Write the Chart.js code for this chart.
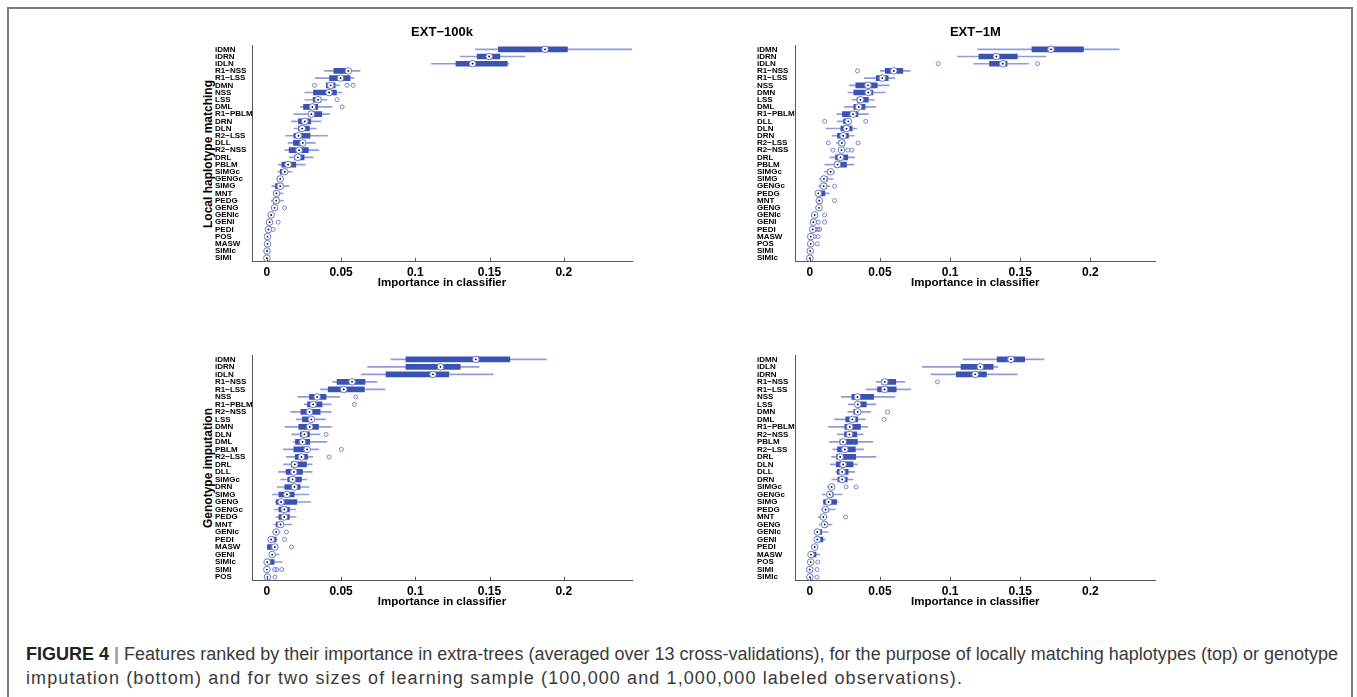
<!DOCTYPE html>
<html>
<head>
<meta charset="utf-8" />
<title>Figure 4</title>
<script src="https://cdn.jsdelivr.net/npm/chart.js@4.4.0/dist/chart.umd.min.js"></script>
<style>
  body { margin: 0; background: #fff; font-family: "Liberation Sans", Arial, Helvetica, sans-serif; }
  #page { position: relative; width: 1357px; height: 697px; overflow: hidden; }
  #frame { position: absolute; left: 7px; top: 7px; width: 1342px; height: 720px; border: 2px solid #7a7a7a; border-bottom: none; }
  canvas { position: absolute; }
  .rowtitle { position: absolute; font-weight: bold; font-size: 12px; white-space: nowrap; transform: translate(-50%, -50%) rotate(-90deg); }
  #caption { position: absolute; left: 26px; top: 642px; font-size: 18px; line-height: 24px; color: #3a3a3a; white-space: nowrap; }
  #caption span.line { display: inline-block; }
  #caption b { color: #222; }
  #caption .bar { color: #999; font-weight: bold; }
</style>
</head>
<body>
<div id="page">
  <div id="frame"></div>
  <canvas id="hap100k" width="422" height="274" style="left:215px; top:16px;"></canvas>
  <canvas id="hap1M" width="403" height="274" style="left:757px; top:16px;"></canvas>
  <canvas id="imp100k" width="422" height="269" style="left:215px; top:340px;"></canvas>
  <canvas id="imp1M" width="403" height="269" style="left:757px; top:340px;"></canvas>
  <div class="rowtitle" style="left:208px; top:154px;">Local haplotype matching</div>
  <div class="rowtitle" style="left:208px; top:468px;">Genotype imputation</div>
  <div id="caption"><span class="line" data-w="1312"><b>FIGURE 4</b> <span class="bar">|</span> Features ranked by their importance in extra-trees (averaged over 13 cross-validations), for the purpose of locally matching haplotypes (top) or genotype</span><br><span class="line" data-w="937">imputation (bottom) and for two sizes of learning sample (100,000 and 1,000,000 labeled observations).</span></div>
</div>
<script>
// x axis ticks (shared)
const tickValues = [0, 0.05, 0.1, 0.15, 0.2];
const tickLabels = ['0', '0.05', '0.1', '0.15', '0.2'];

// EXT-100k, local haplotype matching
const hap100kLabels = ['iDMN','iDRN','iDLN','R1−NSS','R1−LSS','DMN','NSS','LSS','DML','R1−PBLM','DRN','DLN','R2−LSS','DLL','R2−NSS','DRL','PBLM','SIMGc','GENGc','SIMG','MNT','PEDG','GENG','GENIc','GENI','PEDI','POS','MASW','SIMIc','SIMI'];
const hap100kLo  = [0.1404,0.1303,0.1108,0.0388,0.0327,0.0400,0.0256,0.0256,0.0226,0.0182,0.0166,0.0182,0.0126,0.0143,0.0121,0.0150,0.0078,0.0074,0.0067,0.0034,0.0045,0.0029,0.0038,0.0018,0.0009,0.0004,0.0000,0.0000,0.0000,0.0000];
const hap100kQ1  = [0.1560,0.1417,0.1274,0.0451,0.0422,0.0401,0.0314,0.0312,0.0247,0.0283,0.0213,0.0213,0.0182,0.0179,0.0150,0.0188,0.0101,0.0090,0.0076,0.0058,0.0054,0.0045,0.0043,0.0022,0.0013,0.0007,0.0002,0.0002,0.0000,0.0000];
const hap100kMed = [0.1874,0.1498,0.1386,0.0549,0.0496,0.0430,0.0419,0.0345,0.0307,0.0300,0.0256,0.0238,0.0213,0.0242,0.0217,0.0209,0.0143,0.0121,0.0090,0.0090,0.0065,0.0063,0.0052,0.0029,0.0018,0.0011,0.0004,0.0004,0.0001,0.0000];
const hap100kQ3  = [0.2025,0.1570,0.1620,0.0565,0.0561,0.0460,0.0469,0.0365,0.0343,0.0370,0.0296,0.0287,0.0291,0.0258,0.0280,0.0251,0.0195,0.0135,0.0103,0.0108,0.0076,0.0081,0.0061,0.0036,0.0022,0.0016,0.0006,0.0006,0.0002,0.0001];
const hap100kHi  = [0.2460,0.1738,0.1630,0.0628,0.0587,0.0489,0.0507,0.0404,0.0439,0.0422,0.0365,0.0332,0.0408,0.0327,0.0350,0.0312,0.0258,0.0170,0.0112,0.0148,0.0108,0.0112,0.0067,0.0040,0.0027,0.0020,0.0008,0.0008,0.0003,0.0002];
const hap100kOut = [['DMN',0.0321],['DMN',0.0540],['DMN',0.0581],['LSS',0.0473],['DML',0.0507],['GENG',0.0119],['GENI',0.0076],['PEDI',0.0043]];

// EXT-1M, local haplotype matching
const hap1MLabels = ['iDMN','iDRN','iDLN','R1−NSS','R1−LSS','NSS','DMN','LSS','DML','R1−PBLM','DLL','DLN','DRN','R2−LSS','R2−NSS','DRL','PBLM','SIMGc','SIMG','GENGc','PEDG','MNT','GENG','GENIc','GENI','PEDI','MASW','POS','SIMI','SIMIc'];
const hap1MLo  = [0.1198,0.1054,0.1170,0.0502,0.0389,0.0283,0.0271,0.0302,0.0248,0.0193,0.0196,0.0116,0.0160,0.0191,0.0210,0.0144,0.0108,0.0106,0.0068,0.0064,0.0042,0.0052,0.0040,0.0025,0.0018,0.0015,0.0002,0.0004,0.0001,0.0000];
const hap1MQ1  = [0.1583,0.1205,0.1281,0.0538,0.0474,0.0328,0.0314,0.0337,0.0314,0.0233,0.0241,0.0222,0.0198,0.0208,0.0218,0.0184,0.0179,0.0127,0.0083,0.0083,0.0054,0.0059,0.0055,0.0030,0.0022,0.0018,0.0004,0.0005,0.0002,0.0000];
const hap1MMed = [0.1719,0.1330,0.1375,0.0599,0.0517,0.0415,0.0417,0.0361,0.0349,0.0309,0.0274,0.0262,0.0238,0.0229,0.0226,0.0219,0.0198,0.0149,0.0101,0.0099,0.0061,0.0068,0.0066,0.0035,0.0026,0.0021,0.0007,0.0007,0.0003,0.0001];
const hap1MQ3  = [0.1950,0.1479,0.1406,0.0663,0.0559,0.0481,0.0450,0.0417,0.0394,0.0344,0.0292,0.0302,0.0276,0.0248,0.0233,0.0271,0.0262,0.0160,0.0125,0.0120,0.0108,0.0078,0.0075,0.0040,0.0030,0.0026,0.0010,0.0009,0.0004,0.0002];
const hap1MHi  = [0.2205,0.1682,0.1561,0.0715,0.0606,0.0566,0.0538,0.0460,0.0472,0.0417,0.0295,0.0335,0.0316,0.0252,0.0241,0.0321,0.0314,0.0177,0.0167,0.0142,0.0139,0.0085,0.0087,0.0045,0.0035,0.0030,0.0014,0.0011,0.0005,0.0003];
const hap1MOut = [['iDLN',0.0915],['iDLN',0.1623],['R1−NSS',0.0340],['DLL',0.0106],['DLL',0.0399],['R2−LSS',0.0132],['R2−LSS',0.0344],['R2−NSS',0.0165],['R2−NSS',0.0271],['R2−NSS',0.0300],['GENGc',0.0177],['MNT',0.0177],['GENIc',0.0106],['GENI',0.0061],['GENI',0.0106],['PEDI',0.0045],['PEDI',0.0059],['PEDI',0.0071],['MASW',0.0033],['MASW',0.0059],['POS',0.0054]];

// EXT-100k, genotype imputation
const imp100kLabels = ['iDMN','iDRN','iDLN','R1−NSS','R1−LSS','NSS','R1−PBLM','R2−NSS','LSS','DMN','DLN','DML','PBLM','R2−LSS','DRL','DLL','SIMGc','DRN','SIMG','GENG','GENGc','PEDG','MNT','GENIc','PEDI','MASW','GENI','SIMIc','SIMI','POS'];
const imp100kLo  = [0.0836,0.0679,0.0637,0.0444,0.0361,0.0209,0.0253,0.0161,0.0197,0.0123,0.0168,0.0179,0.0110,0.0132,0.0112,0.0078,0.0094,0.0070,0.0038,0.0056,0.0052,0.0061,0.0047,0.0038,0.0013,0.0002,0.0018,0.0000,0.0000,0.0000];
const imp100kQ1  = [0.0937,0.0937,0.0803,0.0473,0.0413,0.0287,0.0274,0.0229,0.0240,0.0215,0.0226,0.0193,0.0182,0.0191,0.0164,0.0130,0.0141,0.0121,0.0081,0.0063,0.0081,0.0081,0.0063,0.0049,0.0016,0.0004,0.0025,0.0002,0.0000,0.0002];
const imp100kMed = [0.1408,0.1170,0.1119,0.0574,0.0518,0.0339,0.0312,0.0287,0.0300,0.0289,0.0253,0.0240,0.0271,0.0233,0.0188,0.0182,0.0173,0.0186,0.0135,0.0096,0.0117,0.0117,0.0092,0.0063,0.0029,0.0054,0.0036,0.0002,0.0000,0.0004];
const imp100kQ3  = [0.1637,0.1303,0.1226,0.0661,0.0657,0.0399,0.0372,0.0359,0.0314,0.0348,0.0287,0.0289,0.0280,0.0274,0.0267,0.0240,0.0233,0.0224,0.0184,0.0202,0.0152,0.0152,0.0108,0.0072,0.0063,0.0067,0.0045,0.0049,0.0003,0.0006];
const imp100kHi  = [0.1883,0.1430,0.1525,0.0742,0.0796,0.0491,0.0433,0.0433,0.0395,0.0435,0.0359,0.0404,0.0350,0.0309,0.0305,0.0305,0.0269,0.0283,0.0283,0.0296,0.0193,0.0197,0.0168,0.0090,0.0070,0.0070,0.0081,0.0103,0.0005,0.0008];
const imp100kOut = [['NSS',0.0599],['R1−PBLM',0.0590],['DLN',0.0399],['PBLM',0.0502],['R2−LSS',0.0419],['GENIc',0.0132],['PEDI',0.0119],['MASW',0.0166],['SIMI',0.0052],['SIMI',0.0067],['SIMI',0.0101],['POS',0.0054]];

// EXT-1M, genotype imputation
const imp1MLabels = ['iDMN','iDLN','iDRN','R1−NSS','R1−LSS','NSS','LSS','DMN','DML','R1−PBLM','R2−NSS','PBLM','R2−LSS','DRL','DLN','DLL','DRN','SIMGc','GENGc','SIMG','PEDG','MNT','GENG','GENIc','GENI','PEDI','MASW','POS','SIMI','SIMIc'];
const imp1MLo  = [0.1092,0.0802,0.0863,0.0474,0.0403,0.0224,0.0274,0.0271,0.0177,0.0134,0.0198,0.0139,0.0165,0.0156,0.0146,0.0184,0.0158,0.0125,0.0090,0.0094,0.0080,0.0059,0.0068,0.0040,0.0038,0.0021,0.0000,0.0002,0.0000,0.0000];
const imp1MQ1  = [0.1335,0.1078,0.1045,0.0514,0.0483,0.0300,0.0325,0.0314,0.0257,0.0250,0.0248,0.0215,0.0198,0.0191,0.0189,0.0196,0.0200,0.0139,0.0125,0.0099,0.0099,0.0085,0.0090,0.0045,0.0050,0.0028,0.0005,0.0005,0.0000,0.0000];
const imp1MMed = [0.1434,0.1215,0.1179,0.0535,0.0533,0.0340,0.0342,0.0342,0.0304,0.0285,0.0283,0.0238,0.0250,0.0217,0.0238,0.0231,0.0231,0.0156,0.0142,0.0134,0.0113,0.0097,0.0106,0.0054,0.0054,0.0035,0.0009,0.0007,0.0000,0.0001];
const imp1MQ3  = [0.1531,0.1307,0.1259,0.0613,0.0616,0.0455,0.0403,0.0361,0.0342,0.0361,0.0335,0.0340,0.0325,0.0328,0.0309,0.0274,0.0267,0.0167,0.0167,0.0191,0.0130,0.0108,0.0123,0.0085,0.0094,0.0042,0.0045,0.0009,0.0002,0.0002];
const imp1MHi  = [0.1670,0.1340,0.1479,0.0677,0.0719,0.0606,0.0472,0.0434,0.0396,0.0413,0.0380,0.0450,0.0384,0.0472,0.0340,0.0321,0.0309,0.0172,0.0231,0.0203,0.0182,0.0125,0.0160,0.0130,0.0111,0.0054,0.0073,0.0012,0.0004,0.0003];
const imp1MOut = [['R1−NSS',0.0910],['DMN',0.0554],['DML',0.0531],['SIMGc',0.0259],['SIMGc',0.0330],['MNT',0.0255],['POS',0.0057],['SIMI',0.0052],['SIMIc',0.0052]];

const fontFamily = '"Liberation Sans", Arial, Helvetica, sans-serif';
Chart.defaults.font.family = fontFamily;
Chart.defaults.color = '#000';

// stretch each caption line to the width it has in the figure
document.querySelectorAll('#caption span.line').forEach(el => {
  const target = +el.dataset.w;
  const n = el.textContent.length;
  const extra = (target - el.getBoundingClientRect().width) / n;
  el.style.letterSpacing = extra.toFixed(3) + 'px';
});

// MATLAB style ticks pointing into the plot
const innerTicks = {
  id: 'innerTicks',
  afterDraw(chart) {
    const x = chart.scales.x;
    const ctx = chart.ctx;
    ctx.save();
    ctx.strokeStyle = '#555';
    ctx.lineWidth = 1;
    x.ticks.forEach(t => {
      const px = Math.round(x.getPixelForValue(t.value)) + 0.5;
      ctx.beginPath();
      ctx.moveTo(px, x.top);
      ctx.lineTo(px, x.top - 4);
      ctx.stroke();
    });
    ctx.restore();
  }
};

function boxChart(id, title, labels, lo, q1, med, q3, hi, outliers, yWidth, topPad) {
  new Chart(document.getElementById(id), {
    type: 'bar',
    data: {
      labels: labels,
      datasets: [
        { data: labels.map((l, i) => [lo[i], hi[i]]), backgroundColor: '#8f9bdb', barThickness: 1, grouped: false, order: 4 },
        { data: labels.map((l, i) => [q1[i], q3[i]]), backgroundColor: '#3a52b2', barThickness: 5, grouped: false, order: 3 },
        { type: 'scatter', data: outliers.map(o => ({ x: o[1], y: o[0] })),
          pointRadius: 2, pointBorderWidth: 1, pointBorderColor: '#7884d2', pointBackgroundColor: 'rgba(0,0,0,0)', order: 2 },
        { type: 'scatter', data: labels.map((l, i) => ({ x: med[i], y: l })),
          pointRadius: 3.3, pointBorderWidth: 1, pointBorderColor: '#6c79c6', pointBackgroundColor: '#fff', order: 1 },
        { type: 'scatter', data: labels.map((l, i) => ({ x: med[i], y: l })),
          pointRadius: 0.9, pointBorderWidth: 0, pointBackgroundColor: '#000', order: 0 }
      ]
    },
    options: {
      indexAxis: 'y',
      responsive: false,
      animation: false,
      layout: { padding: { left: 0, right: 4, top: topPad, bottom: 0 } },
      plugins: {
        legend: { display: false },
        tooltip: { enabled: false },
        title: {
          display: !!title,
          text: title,
          fullSize: false,
          font: { size: 13, weight: 'bold' },
          padding: { top: 8.2, bottom: 5.9 }
        }
      },
      scales: {
        x: {
          type: 'linear',
          min: -0.01,
          max: 0.246,
          grid: { display: false, drawTicks: false },
          border: { display: true, color: '#555', width: 1 },
          afterBuildTicks: (scale) => { scale.ticks = tickValues.map(v => ({ value: v })); },
          afterFit: (scale) => { scale.height = 28.2; },
          ticks: {
            padding: 4,
            font: { size: 12, weight: 'bold' },
            callback: (value, index) => tickLabels[index]
          },
          title: {
            display: true,
            text: 'Importance in classifier',
            font: { size: 11.5, weight: 'bold' },
            padding: 0
          }
        },
        y: {
          type: 'category',
          grid: { display: false, drawTicks: false },
          border: { display: true, color: '#555', width: 1 },
          afterFit: (scale) => { scale.width = yWidth; },
          ticks: {
            autoSkip: false,
            crossAlign: 'far',
            padding: 0,
            font: { size: 8, weight: 'bold', lineHeight: 1 }
          }
        }
      }
    },
    plugins: [innerTicks]
  });
}

boxChart('hap100k', 'EXT−100k', hap100kLabels, hap100kLo, hap100kQ1, hap100kMed, hap100kQ3, hap100kHi, hap100kOut, 37, 0);
boxChart('hap1M', 'EXT−1M', hap1MLabels, hap1MLo, hap1MQ1, hap1MMed, hap1MQ3, hap1MHi, hap1MOut, 38.7, 0);
boxChart('imp100k', '', imp100kLabels, imp100kLo, imp100kQ1, imp100kMed, imp100kQ3, imp100kHi, imp100kOut, 37, 15.6);
boxChart('imp1M', '', imp1MLabels, imp1MLo, imp1MQ1, imp1MMed, imp1MQ3, imp1MHi, imp1MOut, 38.7, 15.6);
</script>
</body>
</html>
